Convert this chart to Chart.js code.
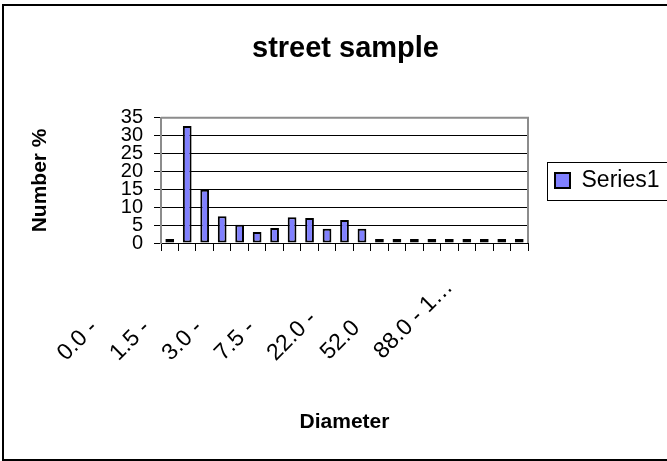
<!DOCTYPE html>
<html>
<head>
<meta charset="utf-8">
<script src="https://cdn.jsdelivr.net/npm/chart.js@4/dist/chart.umd.min.js"></script>
<style>
  html, body { margin: 0; padding: 0; background: #fff; }
  #wrap { width: 667px; height: 461px; }
</style>
</head>
<body>
<div id="wrap"><canvas id="c" width="667" height="461"></canvas></div>
<script>
// ---- data ----
const categories = [
  "0.0 - 0.5", "0.5 - 1.0", "1.0 - 1.5", "1.5 - 2.0", "2.0 - 2.5", "2.5 - 3.0",
  "3.0 - 4.0", "4.0 - 5.5", "5.5 - 7.5", "7.5 - 10.0", "10.0 - 15.0", "15.0 - 22.0",
  "22.0 - 30.0", "30.0 - 40.0", "40.0 - 52.0", "52.0", "62.0 - 74.0", "74.0 - 88.0",
  "88.0 - 105.0", "105.0 - 125.0", "125.0 - 150.0"
];
const tickLabels = [
  "0.0 -", "", "", "1.5 -", "", "", "3.0 -", "", "", "7.5 -", "", "",
  "22.0 -", "", "", "52.0", "", "", "88.0 - 1\u2026", "", ""
];
const series1 = [0.5, 32.7, 14.9, 7.5, 5.1, 3.1, 4.2, 7.2, 7.0, 4.0, 6.4, 4.0,
                 1.1, 0.9, 0.7, 0.4, 0.6, 0.5, 0.5, 0.5, 0.4];
const yTicks = [0, 5, 10, 15, 20, 25, 30, 35];

const FONT = "'Liberation Sans', Arial, sans-serif";
const X_TICK_SIZE = 23;

// Pad labels with trailing spaces so that rotated labels line up at their start
const mctx = document.createElement('canvas').getContext('2d');
mctx.font = X_TICK_SIZE + "px " + FONT;
const maxW = Math.max(...tickLabels.map(t => mctx.measureText(t).width));
const spW = mctx.measureText(' ').width;
const paddedLabels = tickLabels.map(t => t ? t + ' '.repeat(Math.round((maxW - mctx.measureText(t).width) / spW)) : '');

const decor = {
  id: 'decor',
  beforeDraw(chart) {
    const ctx = chart.ctx;
    ctx.save();
    ctx.strokeStyle = '#000';
    ctx.lineWidth = 2;
    ctx.strokeRect(3, 5, chart.width + 10, chart.height - 6);
    ctx.restore();
  },
  beforeDatasetsDraw(chart) {
    const a = chart.chartArea, ctx = chart.ctx;
    ctx.save();
    ctx.strokeStyle = '#8c8c8c';
    ctx.lineWidth = 2;
    ctx.beginPath();
    ctx.moveTo(a.left, a.top);
    ctx.lineTo(a.right, a.top);
    ctx.lineTo(a.right, a.bottom);
    ctx.stroke();
    ctx.restore();
  },
  afterDraw(chart) {
    const lg = chart.legend;
    if (!lg || !lg.legendHitBoxes || !lg.legendHitBoxes.length) return;
    const h = lg.legendHitBoxes[0];
    const cy = h.top + h.height / 2;
    const ctx = chart.ctx;
    ctx.save();
    ctx.strokeStyle = '#000';
    ctx.lineWidth = 1;
    ctx.strokeRect(h.left - 7.5, Math.round(cy - 18) + 0.5, chart.width, 38);
    ctx.restore();
  }
};

new Chart(document.getElementById('c'), {
  type: 'bar',
  data: {
    labels: categories,
    datasets: [{
      label: 'Series1',
      data: series1,
      backgroundColor: '#8080ff',
      borderColor: '#000',
      borderWidth: 2,
      borderSkipped: false,
      minBarLength: 4,
      categoryPercentage: 1.0,
      barPercentage: 0.5
    }]
  },
  options: {
    responsive: false,
    animation: false,
    layout: { padding: { left: 24, right: 0, top: 0, bottom: 22 } },
    plugins: {
      title: {
        display: true,
        text: 'street sample',
        color: '#000',
        font: { family: FONT, size: 29, weight: 'bold' },
        padding: { top: 32, bottom: 51 }
      },
      legend: {
        display: true,
        position: 'right',
        fullSize: false,
        maxWidth: 139,
        labels: {
          color: '#000',
          boxWidth: 15,
          boxHeight: 15,
          padding: 27,
          font: { family: FONT, size: 23 }
        }
      },
      tooltip: { enabled: false }
    },
    scales: {
      x: {
        grid: {
          display: true,
          drawOnChartArea: false,
          drawTicks: true,
          offset: true,
          tickLength: 8,
          color: '#000',
          lineWidth: 1
        },
        border: { display: true, color: '#000', width: 1 },
        ticks: {
          autoSkip: false,
          maxRotation: 45,
          minRotation: 45,
          padding: 23,
          labelOffset: -35,
          color: '#000',
          font: { family: FONT, size: X_TICK_SIZE },
          callback: (v, i) => paddedLabels[i]
        },
        title: {
          display: true,
          text: 'Diameter',
          color: '#000',
          font: { family: FONT, size: 21, weight: 'bold' },
          padding: { top: 4, bottom: 4 }
        },
        afterFit: (s) => { s.height = 196; }
      },
      y: {
        min: 0,
        max: 35,
        afterBuildTicks: (s) => { s.ticks = yTicks.map(v => ({ value: v })); },
        grid: {
          color: '#000',
          lineWidth: 1,
          tickLength: 7,
          tickColor: '#000'
        },
        border: { display: true, color: '#8c8c8c', width: 2 },
        ticks: {
          autoSkip: false,
          padding: 11,
          color: '#000',
          font: { family: FONT, size: 20 }
        },
        title: {
          display: true,
          text: 'Number %',
          color: '#000',
          font: { family: FONT, size: 21, weight: 'bold' },
          padding: { top: 4, bottom: 4 }
        },
        afterFit: (s) => { s.width = 137; }
      }
    }
  },
  plugins: [decor]
});
</script>
</body>
</html>
